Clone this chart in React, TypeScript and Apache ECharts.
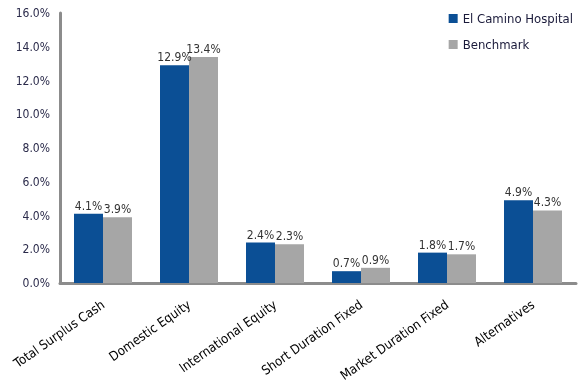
import React, { useEffect, useRef } from "react";
import * as echarts from "echarts";

const categories = [
  "Total Surplus Cash",
  "Domestic Equity",
  "International Equity",
  "Short Duration Fixed",
  "Market Duration Fixed",
  "Alternatives",
];
const elCamino = [4.1, 12.9, 2.4, 0.7, 1.8, 4.9];
const benchmark = [3.9, 13.4, 2.3, 0.9, 1.7, 4.3];

const FONT = "'DejaVu Sans Condensed', 'Liberation Sans Narrow', 'Open Sans', sans-serif";

export default function App() {
  const ref = useRef<HTMLDivElement>(null);
  useEffect(() => {
    if (!ref.current) return;
    const chart = echarts.init(ref.current, undefined, { renderer: "svg" });
    const label = {
      show: true,
      position: "top",
      distance: 2,
      formatter: (p: any) => p.value.toFixed(1) + "%",
      fontFamily: FONT,
      fontSize: 12,
      color: "#333",
    };
    chart.setOption({
      animation: false,
      textStyle: { fontFamily: FONT },
      legend: {
        orient: "vertical",
        right: 3,
        top: 7,
        itemWidth: 9,
        itemHeight: 9,
        itemGap: 13,
        icon: "rect",
        textStyle: { fontFamily: FONT, fontSize: 13, color: "#1a1a3a" },
        data: ["El Camino Hospital", "Benchmark"],
      },
      grid: { left: 60, right: 5, top: 13, bottom: 103 },
      xAxis: {
        type: "category",
        data: categories,
        axisLine: { lineStyle: { color: "#8c8c8c", width: 3 } },
        axisTick: { show: false },
        axisLabel: {
          rotate: 35,
          interval: 0,
          margin: 20,
          fontFamily: FONT,
          fontSize: 13,
          color: "#000",
        },
      },
      yAxis: {
        type: "value",
        min: 0,
        max: 16,
        interval: 2,
        splitLine: { show: false },
        axisLine: { show: true, lineStyle: { color: "#8c8c8c", width: 3 } },
        axisTick: { show: false },
        axisLabel: {
          margin: 10,
          fontFamily: FONT,
          fontSize: 12,
          color: "#2a2a4a",
          formatter: (v: number) => v.toFixed(1) + "%",
        },
      },
      series: [
        {
          name: "El Camino Hospital",
          type: "bar",
          data: elCamino,
          barWidth: 29,
          barGap: "0%",
          itemStyle: { color: "#0B4F95" },
          label,
        },
        {
          name: "Benchmark",
          type: "bar",
          data: benchmark,
          barWidth: 29,
          barGap: "0%",
          itemStyle: { color: "#A6A6A6" },
          label,
        },
      ],
    });
    return () => chart.dispose();
  }, []);
  return (
    <div
      ref={ref}
      style={{ position: "fixed", left: 0, top: 0, width: 581, height: 386 }}
    />
  );
}
